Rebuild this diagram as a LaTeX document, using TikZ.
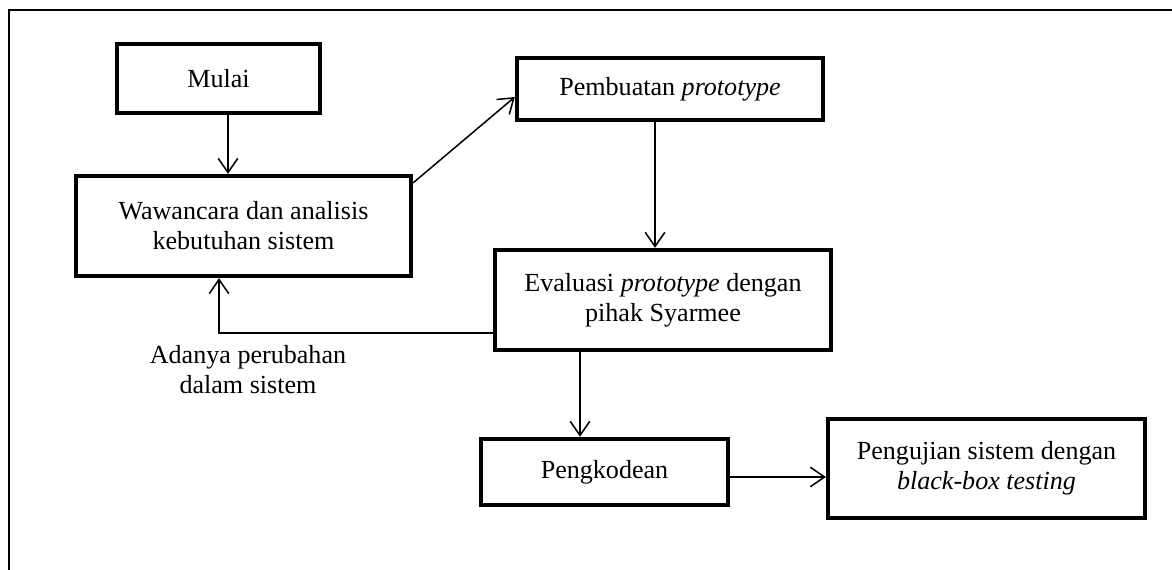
\documentclass[tikz,border=0pt]{standalone}
\usepackage{fontspec}
\setmainfont{Liberation Serif}
\usetikzlibrary{arrows.meta,calc}

\begin{document}
\begin{tikzpicture}[x=0.46pt, y=-0.46pt,
        every node/.style={font=\fontsize{12}{13.8}\selectfont},
        box/.style={draw, rectangle, line width=2pt, align=center, inner sep=0pt},
        arr/.style={-{Straight Barb[length=6.5pt, width=9pt]}, line width=0.7pt}]
        \useasboundingbox (0,0) rectangle (1172,570);
        \draw[line width=1.3pt] (9,600) -- (9,10) -- (1200,10);

        \node[box, minimum width=93.4pt, minimum height=31.7pt] (mulai) at (218.5,78.5) {Mulai};
        \node[box, minimum width=154.1pt, minimum height=46pt] (wawancara) at (243.5,226) {Wawancara dan analisis\\kebutuhan sistem};
        \node[box, minimum width=140.8pt, minimum height=28.5pt] (pembuatan) at (670,89) {Pembuatan \textit{prototype}};
        \node[box, minimum width=154.6pt, minimum height=46pt] (evaluasi) at (663,300) {Evaluasi \textit{prototype} dengan\\pihak Syarmee};
        \node[box, minimum width=113.6pt, minimum height=30.4pt] (pengkodean) at (604.5,472) {Pengkodean};
        \node[box, minimum width=145.8pt, minimum height=45.5pt] (pengujian) at (986.5,468.5) {Pengujian sistem dengan\\\textit{black-box testing}};

        \node[align=center] (perubahan) at (248,370) {Adanya perubahan\\dalam sistem};

        % start points of the connectors
        \coordinate (mulaiout) at ($(mulai.south)+(9.5,0)$);
        \coordinate (pembuatanout) at ($(pembuatan.south)+(-15,0)$);
        \coordinate (evaluasiout) at ($(evaluasi.south)+(-83,0)$);
        \coordinate (kembali) at ($(evaluasi.west)+(0,33)$);
        \coordinate (pengkodeanout) at ($(pengkodean.east)+(0,5)$);

        \draw[arr] (mulaiout) -- (mulaiout |- wawancara.north);
        \draw[arr] ($(wawancara.north east)+(0,9)$) -- ($(pembuatan.west)+(0,8)$);
        \draw[arr] (pembuatanout) -- (pembuatanout |- evaluasi.north);
        \draw[arr] (kembali) -| ($(wawancara.south)+(-24.5,0)$);
        \draw[arr] (evaluasiout) -- (evaluasiout |- pengkodean.north);
        \draw[arr] (pengkodeanout) -- (pengkodeanout -| pengujian.west);
    \end{tikzpicture}
\end{document}
